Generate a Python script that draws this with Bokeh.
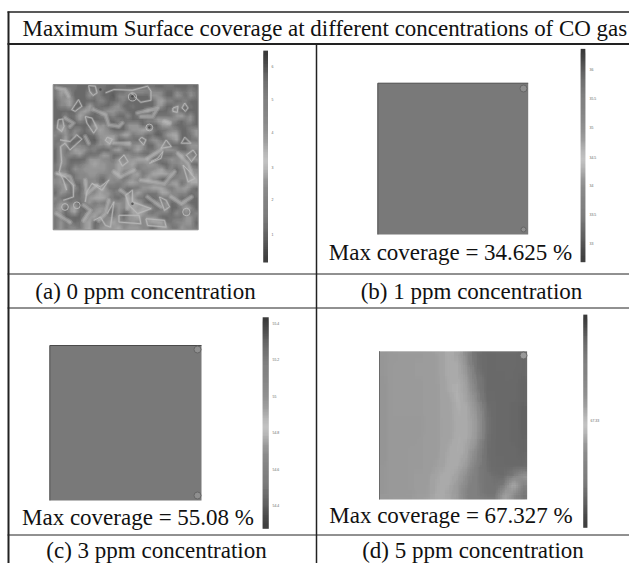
import numpy as np
from bokeh.plotting import figure
from bokeh.models import LinearColorMapper
from bokeh.palettes import Greys256
from bokeh.core.properties import value
from bokeh.embed import file_html
from bokeh.resources import INLINE

title = "Maximum Surface coverage at different concentrations of CO gas"
captions = ["(a) 0 ppm concentration", "(b) 1 ppm concentration", "(c) 3 ppm concentration", "(d) 5 ppm concentration"]
coverage_labels = ["Max coverage = 34.625 %", "Max coverage = 55.08 %", "Max coverage = 67.327 %"]

ticks_a = ["6", "5", "4", "3", "2", "1"]
ticks_b = ["36", "35.5", "35", "34.5", "34", "33.5", "33"]
ticks_c = ["55.4", "55.2", "55", "54.8", "54.6", "54.4"]
ticks_d = ["67.33"]

bar_gray = [62, 78, 96, 112, 122, 128, 132, 136, 142, 150, 162, 182, 196, 180, 156, 142, 134, 130, 126, 118, 106, 94, 78, 64]

panel_a_rows = [
    "444443334443344333344334433343",
    "476533354533333566655553354454",
    "465633364533255533336653365364",
    "356743333553345333333675534533",
    "355733374433563343333663355343",
    "333335763356655333364333553333",
    "335347533454533634433444467463",
    "333336433333354333355777653563",
    "465333337564343666343367533443",
    "476355355765333566775344553356",
    "546463334666657745534236773346",
    "447333332567733443446644573344",
    "456345444657345756633665333466",
    "364476645333674357544556653355",
    "364657433476335644336543357653",
    "365333366655465667774345656366",
    "465344567665576675566533556643",
    "454365666665576664555674535565",
    "466345566555674467457777545566",
    "563445555436564565575533455577",
    "566433656445545776555545773577",
    "457363545674445344667775466753",
    "365443655766453457544477555534",
    "543344567775435674433444553443",
    "466453564545665677533556345533",
    "573674345664465676775346335763",
    "563573456754363377743555364635",
    "453333567455563667566533444664",
    "464534673456755565567774455663",
    "464554673566675666553566446554",
]

# bright contour loops of panel (a), read in a 430 x 433 frame
contour_xs = [
    [105, 125, 130, 118, 108, 105],
    [155, 180, 235, 280, 290, 290, 260, 245, 232],
    [75, 55, 65, 85, 75],
    [15, 28, 32, 25, 12, 15],
    [95, 115, 130, 120, 100, 95],
    [20, 50, 70, 85, 50, 35, 22, 25, 18, 30, 40],
    [160, 175, 168, 155, 160],
    [262, 275, 268, 255, 262],
    [335, 350, 320, 335],
    [390, 408, 380, 390],
    [390, 400, 392, 382, 390],
    [355, 370, 368, 355, 355],
    [195, 210, 222, 205, 195],
    [290, 310, 325, 320, 285],
    [415, 425, 410, 395, 415],
    [160, 180, 170, 155, 140, 120],
    [195, 255, 260, 195, 195],
    [275, 330, 335, 280, 275],
    [115, 145, 165, 140, 115, 100, 95],
    [215, 235, 235, 290, 250, 225, 215],
    [315, 335, 345, 330, 315],
    [385, 405, 420, 400, 385],
    [10, 35, 60, 60, 30],
]
contour_ys = [
    [3, 5, 25, 33, 20, 3],
    [25, 15, 17, 5, 20, 47, 53, 40, 25],
    [45, 75, 80, 65, 45],
    [105, 103, 125, 140, 130, 105],
    [95, 100, 130, 145, 115, 95],
    [165, 170, 150, 163, 195, 175, 185, 230, 260, 285, 315],
    [157, 163, 177, 167, 157],
    [157, 165, 180, 165, 157],
    [165, 185, 190, 165],
    [157, 175, 175, 157],
    [55, 70, 80, 70, 55],
    [70, 65, 83, 80, 70],
    [225, 210, 230, 243, 225],
    [230, 220, 200, 220, 235],
    [195, 210, 230, 210, 195],
    [385, 350, 425, 420, 395, 405],
    [390, 390, 415, 410, 390],
    [400, 405, 425, 420, 400],
    [295, 315, 285, 305, 295, 320, 350],
    [330, 315, 350, 370, 385, 360, 330],
    [335, 345, 365, 375, 335],
    [240, 260, 280, 290, 240],
    [265, 275, 300, 335, 345],
]
circle_x = [235, 285, 35, 70, 395]
circle_y = [37, 128, 365, 360, 380]
circle_r = [12, 10, 10, 10, 11]

# broad pale bands of panel (a), same frame
streak_xs = [
    [10, 35, 45], [35, 60, 50], [120, 155, 165, 195, 205], [250, 290, 310, 295, 260],
    [330, 345], [95, 105], [180, 225], [280, 320], [370, 400, 410], [10, 50, 60],
    [95, 100, 130], [180, 200, 240], [260, 330, 360], [200, 220, 220], [280, 320],
    [350, 380, 410], [10, 50], [90, 110, 90], [135, 155, 165],
]
streak_ys = [
    [10, 15, 35], [100, 115, 125], [75, 90, 120, 125, 115], [85, 75, 70, 95, 95],
    [110, 115], [155, 175], [175, 175], [220, 195], [205, 235, 265], [265, 275, 300],
    [285, 325, 300], [260, 275, 255], [285, 295, 260], [315, 330, 370], [335, 365],
    [335, 355, 335], [385, 410], [360, 375, 405], [405, 385, 345],
]
dark_x = [235, 285, 140, 235]
dark_y = [35, 128, 15, 355]

panel_d_rows = [
    [154, 158, 159, 159, 159, 161, 165, 175, 167, 140, 118, 112, 114, 114, 114, 110],
    [154, 159, 159, 159, 160, 161, 165, 175, 171, 146, 120, 112, 114, 114, 114, 110],
    [154, 159, 159, 159, 160, 161, 165, 175, 173, 152, 124, 112, 112, 114, 112, 110],
    [152, 159, 159, 159, 159, 161, 163, 173, 177, 160, 130, 112, 112, 112, 112, 108],
    [152, 159, 159, 159, 159, 161, 163, 171, 179, 164, 136, 114, 112, 112, 112, 108],
    [152, 159, 159, 159, 159, 161, 163, 169, 179, 170, 144, 116, 112, 112, 110, 108],
    [152, 159, 159, 159, 159, 161, 163, 169, 177, 172, 150, 120, 112, 112, 110, 106],
    [152, 158, 158, 158, 158, 161, 163, 168, 175, 174, 156, 122, 112, 112, 110, 106],
    [152, 158, 158, 158, 158, 161, 163, 168, 175, 174, 156, 122, 112, 112, 110, 106],
    [152, 158, 158, 158, 159, 161, 163, 169, 177, 172, 152, 120, 112, 112, 110, 108],
    [152, 158, 158, 159, 159, 161, 163, 171, 177, 168, 144, 118, 112, 112, 112, 108],
    [152, 158, 158, 159, 159, 161, 165, 173, 175, 162, 136, 118, 114, 112, 112, 110],
    [154, 158, 158, 159, 159, 161, 167, 175, 171, 154, 130, 120, 116, 114, 114, 114],
    [154, 158, 158, 159, 161, 163, 171, 175, 163, 144, 128, 122, 118, 116, 128, 154],
    [154, 158, 158, 159, 161, 165, 173, 171, 157, 138, 128, 124, 120, 134, 178, 134],
    [154, 158, 158, 158, 161, 165, 175, 169, 155, 132, 130, 126, 126, 168, 144, 124],
]

W, H = 629, 563


def Y(py):
    return H - py


mapper = LinearColorMapper(palette=Greys256, low=0, high=255)
p = figure(width=W, height=H, x_range=(0, W), y_range=(0, H),
           output_backend="svg", toolbar_location=None, min_border=0,
           outline_line_color=None, background_fill_color="white", border_fill_color="white")
p.axis.visible = False
p.grid.visible = False


def put_image(rows, x0, x1, y0, y1, nx=5, ny=5):
    """Soft-edged cells: the matrix is laid over itself at small shifts of up to half a cell."""
    arr = np.array(rows, dtype=float)[::-1]
    cw = (x1 - x0) / arr.shape[1]
    ch = (y1 - y0) / arr.shape[0]
    p.image(image=[arr], x=x0, y=Y(y1), dw=x1 - x0, dh=y1 - y0, color_mapper=mapper)
    k = 0
    for j in range(ny):
        for i in range(nx):
            k += 1
            ox = cw * (i / (nx - 1) - 0.5) if nx > 1 else 0
            oy = ch * (j / (ny - 1) - 0.5) if ny > 1 else 0
            p.image(image=[arr], x=x0 + ox, y=Y(y1) + oy, dw=x1 - x0, dh=y1 - y0,
                    color_mapper=mapper, global_alpha=1.0 / k)
    pad = max(cw, ch)
    p.quad(left=[x0 - pad, x1, x0 - pad, x0 - pad], right=[x0, x1 + pad, x1 + pad, x1 + pad],
           top=[Y(y0 - pad), Y(y0 - pad), Y(y0 - pad), Y(y1)],
           bottom=[Y(y1 + pad), Y(y1 + pad), Y(y0), Y(y1 + pad)],
           fill_color="white", line_color=None)


# Panel (a)
a_box = (52.7, 197.7, 84.0, 229.3)
a_grid = [[66 + int(ch) * 15 for ch in r[:30].ljust(30, "4")] for r in panel_a_rows]
put_image(a_grid, *a_box)
sx = (a_box[1] - a_box[0]) / 430
sy = (a_box[3] - a_box[2]) / 433
s_xs = [[a_box[0] + v * sx for v in c] for c in streak_xs]
s_ys = [[Y(a_box[2] + v * sy) for v in c] for c in streak_ys]
p.multi_line(xs=s_xs, ys=s_ys, line_color="#bdbdbd", line_width=5, line_alpha=0.28, line_join="round", line_cap="round")
p.multi_line(xs=s_xs, ys=s_ys, line_color="#bdbdbd", line_width=2.5, line_alpha=0.4, line_join="round", line_cap="round")
a_xs = [[a_box[0] + v * sx for v in c] for c in contour_xs]
a_ys = [[Y(a_box[2] + v * sy) for v in c] for c in contour_ys]
p.multi_line(xs=a_xs, ys=a_ys, line_color="#b8b8b8", line_width=2.4, line_alpha=0.3, line_join="round")
p.multi_line(xs=a_xs, ys=a_ys, line_color="#bcbcbc", line_width=1, line_alpha=0.8, line_join="round")
p.scatter(x=[a_box[0] + v * sx for v in circle_x], y=[Y(a_box[2] + v * sy) for v in circle_y],
          size=[2 * r * sx for r in circle_r], marker="circle", fill_color=None,
          line_color="#bcbcbc", line_width=1, line_alpha=0.9)
p.scatter(x=[a_box[0] + v * sx for v in dark_x], y=[Y(a_box[2] + v * sy) for v in dark_y], size=2.5,
          marker="circle", fill_color="#444444", line_color=None, fill_alpha=0.8)
p.quad(left=a_box[0], right=a_box[1], top=Y(a_box[2]), bottom=Y(a_box[3]), fill_color=None,
       line_color="#8a8a8a", line_width=1)

# Panels (b), (c): uniform coverage
for box in [(377.3, 527.7, 82.7, 234.0), (49.3, 201.0, 345.0, 500.0)]:
    p.quad(left=box[0], right=box[1], top=Y(box[2]), bottom=Y(box[3]), fill_color="#797979",
           line_color=None)
    p.line(x=[box[0], box[0], box[1]], y=[Y(box[3]), Y(box[2]), Y(box[2])], line_color="#4a4a4a", line_width=1)
p.scatter(x=[523, 523, 197, 197], y=[Y(88), Y(229), Y(349), Y(495)], size=[7, 5, 7, 7],
          marker="circle", fill_color="#8f8f8f", line_color="#666666", line_width=1)

# Panel (d)
d_box = (379.0, 526.7, 350.7, 499.0)
put_image(panel_d_rows, *d_box)
p.line(x=[d_box[0], d_box[0]], y=[Y(d_box[2]), Y(d_box[3])], line_color="#6a6a6a", line_width=1)
p.scatter(x=[523], y=[Y(355)], size=[7], marker="circle", fill_color="#9a9a9a", line_color="#6a6a6a", line_width=1)

# Colour bars
bar = [[v] for v in bar_gray]
put_image(bar, 262.7, 267.5, 50.0, 262.0, nx=1, ny=7)
put_image(bar, 580.0, 585.0, 48.3, 261.7, nx=1, ny=7)
put_image(bar, 262.0, 268.3, 316.7, 528.3, nx=1, ny=7)
put_image(bar, 582.7, 587.0, 314.0, 527.3, nx=1, ny=7)

tick_font = value("Liberation Sans")
for labels, x, ys in [(ticks_a, 271, [66, 99, 132, 167, 199, 234]),
                      (ticks_b, 589, [69, 98, 127, 157, 185, 214, 243]),
                      (ticks_c, 272, [323, 359, 396, 432, 469, 505]),
                      (ticks_d, 590, [420])]:
    p.text(x=[x] * len(labels), y=[Y(v) for v in ys], text=labels, text_font=tick_font,
           text_font_size="3.5px", text_color="#666666", text_baseline="middle", text_align="left")

# Table rules
rule_y = [11.5, 43.5, 273.5, 307.5, 534.5]
p.segment(x0=[7] * 5, x1=[W] * 5, y0=[Y(v) for v in rule_y], y1=[Y(v) for v in rule_y],
          line_color="#222222", line_width=[1.3, 2, 1, 1, 1])
p.segment(x0=[8, 316], x1=[8, 316], y0=[Y(11), Y(43)], y1=[0, 0], line_color="#222222", line_width=[2, 1.5])

# Texts
serif = value("Liberation Serif")
size = "23px"
p.text(x=[22], y=[Y(27.5)], text=[title], text_font=serif, text_font_size="22.95px", text_color="#111111",
       text_align="left", text_baseline="middle")
p.text(x=[145, 471, 156, 472.5], y=[Y(291), Y(291), Y(550), Y(550)], text=captions, text_font=serif,
       text_font_size=size, text_color="#111111", text_align="center", text_baseline="middle")
p.text(x=[450, 137.5, 450.5], y=[Y(252), Y(517), Y(515)], text=coverage_labels, text_font=serif,
       text_font_size=size, text_color="#111111", text_align="center", text_baseline="middle")

open("out.html", "w").write(file_html(p, INLINE))
